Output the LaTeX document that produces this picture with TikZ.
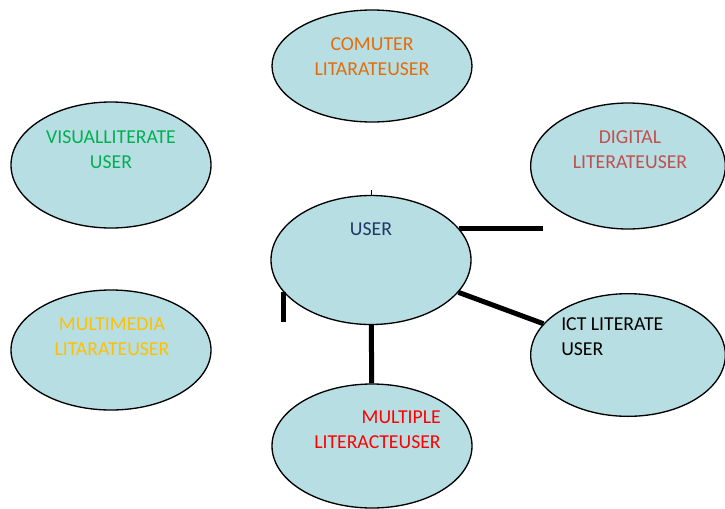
\documentclass[tikz,border=0pt]{standalone}
\usepackage{fontspec}
\setmainfont{Carlito}
\usepackage{tikz}
\usetikzlibrary{positioning, shapes.geometric, calc}
\definecolor{bubblefill}{RGB}{183, 222, 226}
\definecolor{usercol}   {RGB}{31, 56, 100}
\definecolor{compcol}   {RGB}{228, 108, 10}
\definecolor{visualcol} {RGB}{0, 176, 80}
\definecolor{digitalcol}{RGB}{192, 80, 77}
\definecolor{mediacol}  {RGB}{255, 192, 0}
\definecolor{multicol}  {RGB}{255, 0, 0}
\tikzset{
  % Ellipse bubble
  bubble/.style={
    ellipse, draw=black, fill=bubblefill, line width=1pt,
    minimum width=150pt, minimum height=94pt, inner sep=0pt
  },
  % Bubble text
  lbl/.style={
    font=\fontsize{14.8pt}{18.75pt}\selectfont, align=center, inner sep=0pt
  },
  % Connector style
  link/.style={line width=3.75pt, color=black},
}

\begin{document}
\begin{tikzpicture}[x=0.75pt, y=-0.75pt]
  \useasboundingbox (0,0) rectangle (725,508);
  \node[bubble, minimum height=96.75pt] (n0) at (371,260) {};
  \node[bubble, minimum height=84pt]    (n1) at (372,66)  {};
  \node[bubble, minimum height=94.5pt]  (n2) at (111,165) {};
  \node[bubble, minimum width=146pt, minimum height=94.5pt] (n3) at (628,166) {};
  \node[bubble, minimum height=90pt]    (n4) at (111,350) {};
  \node[bubble, minimum width=146pt, minimum height=92pt] (n5) at (628,355) {};
  \node[bubble, minimum height=93pt]    (n6) at (372,446) {};
  \node[lbl, text=usercol]    (t0) at ($(n0)+(0,-31)$)   {USER};
  \node[lbl, text=compcol]    (t1) at ($(n1)+(0,-9.5)$)  {COMUTER\\LITARATEUSER};
  \node[lbl, text=visualcol]  (t2) at ($(n2)+(0,-15.5)$) {VISUALLITERATE\\USER};
  \node[lbl, text=digitalcol] (t3) at ($(n3)+(2,-16.5)$) {DIGITAL\\LITERATEUSER};
  \node[lbl, text=mediacol]   (t4) at ($(n4)+(1,-13)$)   {MULTIMEDIA\\LITARATEUSER};
  \node[lbl, align=left, anchor=west]  (t5) at ($(n5)+(-67,-18.5)$) {ICT LITERATE\\USER};
  \node[lbl, text=multicol, align=right, anchor=east] (t6) at ($(n6)+(69,-16)$) {MULTIPLE\\LITERACTEUSER};
  \coordinate (h1) at (543,229);
  \coordinate (s1) at (284,322);
  \draw[link] (n0.20) -- (n0.20 -| h1);
  \draw[link] (n0) -- (n5);
  \draw[link] (n0) -- (n6);
  \draw[link] (n0.200) -- (n0.200 |- s1);
  \draw[line width=0.5pt] (n0.north) -- ++(0,-5);
\end{tikzpicture}
\end{document}
